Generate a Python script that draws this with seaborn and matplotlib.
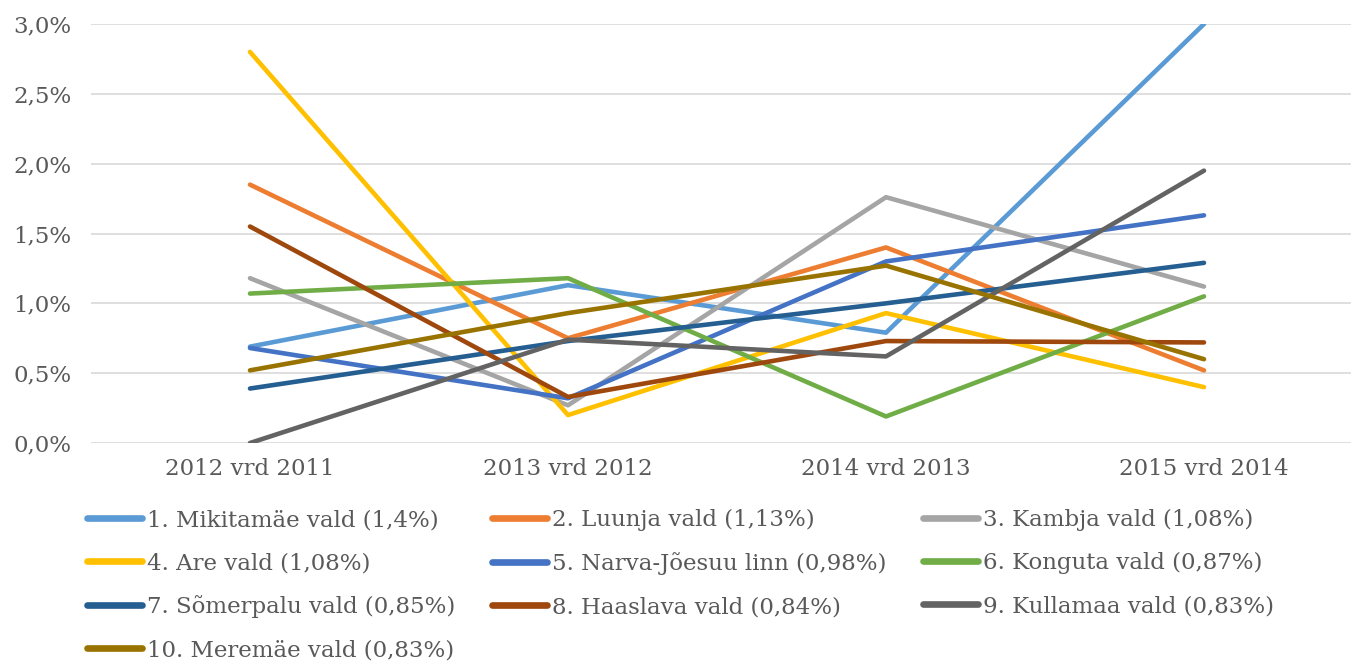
import numpy as np
import pandas as pd
import matplotlib
matplotlib.use("Agg")
import matplotlib.pyplot as plt
import seaborn as sns
from matplotlib.ticker import FuncFormatter

periods = ["2012 vrd 2011", "2013 vrd 2012", "2014 vrd 2013", "2015 vrd 2014"]

names = [
    "1. Mikitamäe vald (1,4%)",
    "2. Luunja vald (1,13%)",
    "3. Kambja vald (1,08%)",
    "4. Are vald (1,08%)",
    "5. Narva-Jõesuu linn (0,98%)",
    "6. Konguta vald (0,87%)",
    "7. Sõmerpalu vald (0,85%)",
    "8. Haaslava vald (0,84%)",
    "9. Kullamaa vald (0,83%)",
    "10. Meremäe vald (0,83%)",
]

# growth, in percent
mikitamae = [0.69, 1.13, 0.79, 3.00]
luunja = [1.85, 0.75, 1.40, 0.52]
kambja = [1.18, 0.27, 1.76, 1.12]
are = [2.80, 0.20, 0.93, 0.40]
narva = [0.68, 0.32, 1.30, 1.63]
konguta = [1.07, 1.18, 0.19, 1.05]
somerpalu = [0.39, 0.73, 1.00, 1.29]
haaslava = [1.55, 0.33, 0.73, 0.72]
kullamaa = [0.00, 0.74, 0.62, 1.95]
meremae = [0.52, 0.93, 1.27, 0.60]

series = [mikitamae, luunja, kambja, are, narva, konguta, somerpalu,
          haaslava, kullamaa, meremae]

colors = ["#5B9BD5", "#ED7D31", "#A5A5A5", "#FFC000", "#4472C4",
          "#70AD47", "#255E91", "#9E480E", "#636363", "#997300"]

rows = []
for name, vals in zip(names, series):
    for p, v in zip(periods, vals):
        rows.append({"periood": p, "vald": name, "kasv": v / 100})
df = pd.DataFrame(rows)

sns.set_style("white")
plt.rcParams["font.family"] = ["DejaVu Serif"]
text_color = "#595959"
fs = 16.5

fig = plt.figure(figsize=(13.51, 6.63), dpi=100)
ax = fig.add_axes([91 / 1351, 1 - 443 / 663, (1363 - 91) / 1351, (443 - 24) / 663])

sns.lineplot(data=df, x="periood", y="kasv", hue="vald", palette=colors,
             hue_order=names, sort=False, lw=3.3, ax=ax, legend=True)
for line in ax.get_lines():
    line.set_solid_capstyle("round")
    line.set_solid_joinstyle("round")

ax.set_ylim(0, 0.03)
ax.set_xlim(-0.5, 3.5)
ax.set_yticks(np.arange(0, 0.0301, 0.005))
ax.yaxis.set_major_formatter(FuncFormatter(lambda v, _: f"{v*100:.1f}%".replace(".", ",")))
ax.grid(axis="y", color="#D9D9D9", lw=1.2)
ax.set_axisbelow(True)
for s in ax.spines.values():
    s.set_visible(False)
ax.set_xlabel("")
ax.set_ylabel("")
ax.tick_params(axis="both", length=0, labelsize=fs, colors=text_color)
ax.tick_params(axis="y", pad=14)
ax.tick_params(axis="x", pad=11)

handles, labels = ax.get_legend_handles_labels()
ax.get_legend().remove()
order = [0, 3, 6, 9, 1, 4, 7, 2, 5, 8]
leg = fig.legend([handles[i] for i in order], [labels[i] for i in order],
                 ncol=3, loc="upper left", bbox_to_anchor=(87 / 1351, 1 - 509 / 663),
                 frameon=False, fontsize=fs, handlelength=2.4, handletextpad=0.22,
                 columnspacing=1.6, labelspacing=0.92, borderpad=0, borderaxespad=0)
for t in leg.get_texts():
    t.set_color(text_color)
for h in leg.legend_handles:
    h.set_linewidth(4.8)
    h.set_solid_capstyle("round")

fig.savefig("out.png", dpi=100)
